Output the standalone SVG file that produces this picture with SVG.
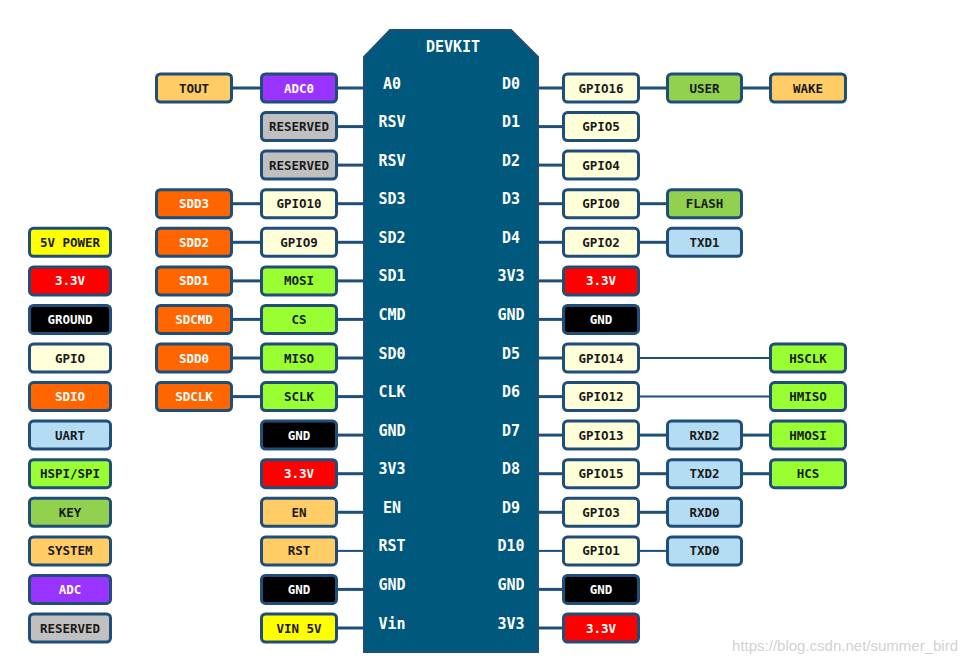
<svg xmlns="http://www.w3.org/2000/svg" width="967" height="662" viewBox="0 0 967 662">
<style>
.b rect{stroke:#1f4e79;stroke-width:3}
.b text{font-family:"DejaVu Sans Mono","Liberation Mono",monospace;font-weight:bold;font-size:12.5px;text-anchor:middle;dominant-baseline:central;fill:#1a1a1a}
.w text{fill:#ffffff}
.pin{font-family:"DejaVu Sans Mono","Liberation Mono",monospace;font-weight:bold;font-size:15px;text-anchor:middle;dominant-baseline:central;fill:#ffffff}
#connectors line{stroke:#1f4e79;stroke-width:3}
#connectors line.t{stroke-width:2}
.sys{fill:#ffcc66}.adc{fill:#9933ff}.res{fill:#c0c0c0}.gpio{fill:#ffffd9}.key{fill:#92d050}
.sdio{fill:#ff6600}.spi{fill:#99ff33}.v33{fill:#ff0000}.gnd{fill:#000000}.uart{fill:#b4dcf2}.v5{fill:#ffff00}
</style>
<rect width="967" height="662" fill="#ffffff"/>
<g id="connectors">
<line x1="232" y1="88" x2="260" y2="88"/><line x1="338" y1="88" x2="364" y2="88"/>
<line x1="338" y1="126.6" x2="364" y2="126.6"/>
<line x1="338" y1="165.1" x2="364" y2="165.1"/>
<line x1="232" y1="203.7" x2="260" y2="203.7"/><line x1="338" y1="203.7" x2="364" y2="203.7"/>
<line x1="232" y1="242.3" x2="260" y2="242.3"/><line x1="338" y1="242.3" x2="364" y2="242.3"/>
<line x1="232" y1="280.9" x2="260" y2="280.9"/><line x1="338" y1="280.9" x2="364" y2="280.9"/>
<line x1="232" y1="319.4" x2="260" y2="319.4"/><line x1="338" y1="319.4" x2="364" y2="319.4"/>
<line x1="232" y1="358" x2="260" y2="358"/><line x1="338" y1="358" x2="364" y2="358"/>
<line x1="232" y1="396.6" x2="260" y2="396.6"/><line x1="338" y1="396.6" x2="364" y2="396.6"/>
<line x1="338" y1="435.1" x2="364" y2="435.1"/>
<line x1="338" y1="473.7" x2="364" y2="473.7"/>
<line x1="338" y1="512.3" x2="364" y2="512.3"/>
<line class="t" x1="338" y1="550.9" x2="364" y2="550.9"/>
<line x1="338" y1="589.4" x2="364" y2="589.4"/>
<line x1="338" y1="628" x2="364" y2="628"/>
<line x1="538" y1="88" x2="562" y2="88"/><line x1="640" y1="88" x2="666" y2="88"/><line x1="743" y1="88" x2="769" y2="88"/>
<line x1="538" y1="126.6" x2="562" y2="126.6"/>
<line x1="538" y1="165.1" x2="562" y2="165.1"/>
<line x1="538" y1="203.7" x2="562" y2="203.7"/><line x1="640" y1="203.7" x2="666" y2="203.7"/>
<line x1="538" y1="242.3" x2="562" y2="242.3"/><line x1="640" y1="242.3" x2="666" y2="242.3"/>
<line x1="538" y1="280.9" x2="562" y2="280.9"/>
<line x1="538" y1="319.4" x2="562" y2="319.4"/>
<line x1="538" y1="358" x2="562" y2="358"/><line class="t" x1="640" y1="358" x2="769" y2="358"/>
<line x1="538" y1="396.6" x2="562" y2="396.6"/><line class="t" x1="640" y1="396.6" x2="769" y2="396.6"/>
<line x1="538" y1="435.1" x2="562" y2="435.1"/><line x1="640" y1="435.1" x2="666" y2="435.1"/><line x1="743" y1="435.1" x2="769" y2="435.1"/>
<line x1="538" y1="473.7" x2="562" y2="473.7"/><line x1="640" y1="473.7" x2="666" y2="473.7"/><line x1="743" y1="473.7" x2="769" y2="473.7"/>
<line x1="538" y1="512.3" x2="562" y2="512.3"/><line x1="640" y1="512.3" x2="666" y2="512.3"/>
<line class="t" x1="538" y1="550.9" x2="562" y2="550.9"/><line class="t" x1="640" y1="550.9" x2="666" y2="550.9"/>
<line x1="538" y1="589.4" x2="562" y2="589.4"/>
<line x1="538" y1="628" x2="562" y2="628"/>
</g>
<g id="board">
<path d="M364,57 L390,30 L511,30 L538,57 L538,652 L364,652 Z" fill="#00587c" stroke="#1f4e79" stroke-width="2"/>
<text class="pin" x="453" y="47">DEVKIT</text>
<text class="pin" x="392" y="83.5">A0</text><text class="pin" x="511" y="83.5">D0</text>
<text class="pin" x="392" y="122.1">RSV</text><text class="pin" x="511" y="122.1">D1</text>
<text class="pin" x="392" y="160.6">RSV</text><text class="pin" x="511" y="160.6">D2</text>
<text class="pin" x="392" y="199.2">SD3</text><text class="pin" x="511" y="199.2">D3</text>
<text class="pin" x="392" y="237.8">SD2</text><text class="pin" x="511" y="237.8">D4</text>
<text class="pin" x="392" y="276.4">SD1</text><text class="pin" x="511" y="276.4">3V3</text>
<text class="pin" x="392" y="314.9">CMD</text><text class="pin" x="511" y="314.9">GND</text>
<text class="pin" x="392" y="353.5">SD0</text><text class="pin" x="511" y="353.5">D5</text>
<text class="pin" x="392" y="392.1">CLK</text><text class="pin" x="511" y="392.1">D6</text>
<text class="pin" x="392" y="430.6">GND</text><text class="pin" x="511" y="430.6">D7</text>
<text class="pin" x="392" y="469.2">3V3</text><text class="pin" x="511" y="469.2">D8</text>
<text class="pin" x="392" y="507.8">EN</text><text class="pin" x="511" y="507.8">D9</text>
<text class="pin" x="392" y="546.4">RST</text><text class="pin" x="511" y="546.4">D10</text>
<text class="pin" x="392" y="584.9">GND</text><text class="pin" x="511" y="584.9">GND</text>
<text class="pin" x="392" y="623.5">Vin</text><text class="pin" x="511" y="623.5">3V3</text>
</g>
<!-- left column 1 -->
<g id="tout" class="b"><rect class="sys" x="156.5" y="74" width="75" height="28" rx="4"/><text x="194" y="88">TOUT</text></g>
<g id="sdd3" class="b w"><rect class="sdio" x="156.5" y="189.7" width="75" height="28" rx="4"/><text x="194" y="203.7">SDD3</text></g>
<g id="sdd2" class="b w"><rect class="sdio" x="156.5" y="228.3" width="75" height="28" rx="4"/><text x="194" y="242.3">SDD2</text></g>
<g id="sdd1" class="b w"><rect class="sdio" x="156.5" y="266.9" width="75" height="28" rx="4"/><text x="194" y="280.9">SDD1</text></g>
<g id="sdcmd" class="b w"><rect class="sdio" x="156.5" y="305.4" width="75" height="28" rx="4"/><text x="194" y="319.4">SDCMD</text></g>
<g id="sdd0" class="b w"><rect class="sdio" x="156.5" y="344" width="75" height="28" rx="4"/><text x="194" y="358">SDD0</text></g>
<g id="sdclk" class="b w"><rect class="sdio" x="156.5" y="382.6" width="75" height="28" rx="4"/><text x="194" y="396.6">SDCLK</text></g>
<!-- left column 2 -->
<g id="adc0" class="b w"><rect class="adc" x="261.5" y="74" width="75" height="28" rx="4"/><text x="299" y="88">ADC0</text></g>
<g id="rsv1" class="b"><rect class="res" x="261.5" y="112.6" width="75" height="28" rx="4"/><text x="299" y="126.6">RESERVED</text></g>
<g id="rsv2" class="b"><rect class="res" x="261.5" y="151.1" width="75" height="28" rx="4"/><text x="299" y="165.1">RESERVED</text></g>
<g id="gpio10" class="b"><rect class="gpio" x="261.5" y="189.7" width="75" height="28" rx="4"/><text x="299" y="203.7">GPIO10</text></g>
<g id="gpio9" class="b"><rect class="gpio" x="261.5" y="228.3" width="75" height="28" rx="4"/><text x="299" y="242.3">GPIO9</text></g>
<g id="mosi" class="b"><rect class="spi" x="261.5" y="266.9" width="75" height="28" rx="4"/><text x="299" y="280.9">MOSI</text></g>
<g id="cs" class="b"><rect class="spi" x="261.5" y="305.4" width="75" height="28" rx="4"/><text x="299" y="319.4">CS</text></g>
<g id="miso" class="b"><rect class="spi" x="261.5" y="344" width="75" height="28" rx="4"/><text x="299" y="358">MISO</text></g>
<g id="sclk" class="b"><rect class="spi" x="261.5" y="382.6" width="75" height="28" rx="4"/><text x="299" y="396.6">SCLK</text></g>
<g id="lgnd1" class="b w"><rect class="gnd" x="261.5" y="421.1" width="75" height="28" rx="4"/><text x="299" y="435.1">GND</text></g>
<g id="l33v" class="b w"><rect class="v33" x="261.5" y="459.7" width="75" height="28" rx="4"/><text x="299" y="473.7">3.3V</text></g>
<g id="en" class="b"><rect class="sys" x="261.5" y="498.3" width="75" height="28" rx="4"/><text x="299" y="512.3">EN</text></g>
<g id="rst" class="b"><rect class="sys" x="261.5" y="536.9" width="75" height="28" rx="4"/><text x="299" y="550.9">RST</text></g>
<g id="lgnd2" class="b w"><rect class="gnd" x="261.5" y="575.4" width="75" height="28" rx="4"/><text x="299" y="589.4">GND</text></g>
<g id="vin5v" class="b"><rect class="v5" x="261.5" y="614" width="75" height="28" rx="4"/><text x="299" y="628">VIN 5V</text></g>
<!-- right column 1 -->
<g id="gpio16" class="b"><rect class="gpio" x="563.5" y="74" width="75" height="28" rx="4"/><text x="601" y="88">GPIO16</text></g>
<g id="gpio5" class="b"><rect class="gpio" x="563.5" y="112.6" width="75" height="28" rx="4"/><text x="601" y="126.6">GPIO5</text></g>
<g id="gpio4" class="b"><rect class="gpio" x="563.5" y="151.1" width="75" height="28" rx="4"/><text x="601" y="165.1">GPIO4</text></g>
<g id="gpio0" class="b"><rect class="gpio" x="563.5" y="189.7" width="75" height="28" rx="4"/><text x="601" y="203.7">GPIO0</text></g>
<g id="gpio2" class="b"><rect class="gpio" x="563.5" y="228.3" width="75" height="28" rx="4"/><text x="601" y="242.3">GPIO2</text></g>
<g id="r33v1" class="b w"><rect class="v33" x="563.5" y="266.9" width="75" height="28" rx="4"/><text x="601" y="280.9">3.3V</text></g>
<g id="rgnd1" class="b w"><rect class="gnd" x="563.5" y="305.4" width="75" height="28" rx="4"/><text x="601" y="319.4">GND</text></g>
<g id="gpio14" class="b"><rect class="gpio" x="563.5" y="344" width="75" height="28" rx="4"/><text x="601" y="358">GPIO14</text></g>
<g id="gpio12" class="b"><rect class="gpio" x="563.5" y="382.6" width="75" height="28" rx="4"/><text x="601" y="396.6">GPIO12</text></g>
<g id="gpio13" class="b"><rect class="gpio" x="563.5" y="421.1" width="75" height="28" rx="4"/><text x="601" y="435.1">GPIO13</text></g>
<g id="gpio15" class="b"><rect class="gpio" x="563.5" y="459.7" width="75" height="28" rx="4"/><text x="601" y="473.7">GPIO15</text></g>
<g id="gpio3" class="b"><rect class="gpio" x="563.5" y="498.3" width="75" height="28" rx="4"/><text x="601" y="512.3">GPIO3</text></g>
<g id="gpio1" class="b"><rect class="gpio" x="563.5" y="536.9" width="75" height="28" rx="4"/><text x="601" y="550.9">GPIO1</text></g>
<g id="rgnd2" class="b w"><rect class="gnd" x="563.5" y="575.4" width="75" height="28" rx="4"/><text x="601" y="589.4">GND</text></g>
<g id="r33v2" class="b w"><rect class="v33" x="563.5" y="614" width="75" height="28" rx="4"/><text x="601" y="628">3.3V</text></g>
<!-- right column 2 -->
<g id="user" class="b"><rect class="key" x="667.5" y="74" width="74" height="28" rx="4"/><text x="704.5" y="88">USER</text></g>
<g id="flash" class="b"><rect class="key" x="667.5" y="189.7" width="74" height="28" rx="4"/><text x="704.5" y="203.7">FLASH</text></g>
<g id="txd1" class="b"><rect class="uart" x="667.5" y="228.3" width="74" height="28" rx="4"/><text x="704.5" y="242.3">TXD1</text></g>
<g id="rxd2" class="b"><rect class="uart" x="667.5" y="421.1" width="74" height="28" rx="4"/><text x="704.5" y="435.1">RXD2</text></g>
<g id="txd2" class="b"><rect class="uart" x="667.5" y="459.7" width="74" height="28" rx="4"/><text x="704.5" y="473.7">TXD2</text></g>
<g id="rxd0" class="b"><rect class="uart" x="667.5" y="498.3" width="74" height="28" rx="4"/><text x="704.5" y="512.3">RXD0</text></g>
<g id="txd0" class="b"><rect class="uart" x="667.5" y="536.9" width="74" height="28" rx="4"/><text x="704.5" y="550.9">TXD0</text></g>
<!-- right column 3 -->
<g id="wake" class="b"><rect class="sys" x="770.5" y="74" width="75" height="28" rx="4"/><text x="808" y="88">WAKE</text></g>
<g id="hsclk" class="b"><rect class="spi" x="770.5" y="344" width="75" height="28" rx="4"/><text x="808" y="358">HSCLK</text></g>
<g id="hmiso" class="b"><rect class="spi" x="770.5" y="382.6" width="75" height="28" rx="4"/><text x="808" y="396.6">HMISO</text></g>
<g id="hmosi" class="b"><rect class="spi" x="770.5" y="421.1" width="75" height="28" rx="4"/><text x="808" y="435.1">HMOSI</text></g>
<g id="hcs" class="b"><rect class="spi" x="770.5" y="459.7" width="75" height="28" rx="4"/><text x="808" y="473.7">HCS</text></g>
<!-- legend -->
<g id="lg-5v" class="b"><rect class="v5" x="29.5" y="228.3" width="81" height="28" rx="4"/><text x="70" y="242.3">5V POWER</text></g>
<g id="lg-33v" class="b w"><rect class="v33" x="29.5" y="266.9" width="81" height="28" rx="4"/><text x="70" y="280.9">3.3V</text></g>
<g id="lg-gnd" class="b w"><rect class="gnd" x="29.5" y="305.4" width="81" height="28" rx="4"/><text x="70" y="319.4">GROUND</text></g>
<g id="lg-gpio" class="b"><rect class="gpio" x="29.5" y="344" width="81" height="28" rx="4"/><text x="70" y="358">GPIO</text></g>
<g id="lg-sdio" class="b w"><rect class="sdio" x="29.5" y="382.6" width="81" height="28" rx="4"/><text x="70" y="396.6">SDIO</text></g>
<g id="lg-uart" class="b"><rect class="uart" x="29.5" y="421.1" width="81" height="28" rx="4"/><text x="70" y="435.1">UART</text></g>
<g id="lg-spi" class="b"><rect class="spi" x="29.5" y="459.7" width="81" height="28" rx="4"/><text x="70" y="473.7">HSPI/SPI</text></g>
<g id="lg-key" class="b"><rect class="key" x="29.5" y="498.3" width="81" height="28" rx="4"/><text x="70" y="512.3">KEY</text></g>
<g id="lg-sys" class="b"><rect class="sys" x="29.5" y="536.9" width="81" height="28" rx="4"/><text x="70" y="550.9">SYSTEM</text></g>
<g id="lg-adc" class="b w"><rect class="adc" x="29.5" y="575.4" width="81" height="28" rx="4"/><text x="70" y="589.4">ADC</text></g>
<g id="lg-res" class="b"><rect class="res" x="29.5" y="614" width="81" height="28" rx="4"/><text x="70" y="628">RESERVED</text></g>
<text x="958" y="651" text-anchor="end" font-family="Liberation Sans, Arial, sans-serif" font-size="15" fill="#d2d2d2">https://blog.csdn.net/summer_bird</text>
</svg>
